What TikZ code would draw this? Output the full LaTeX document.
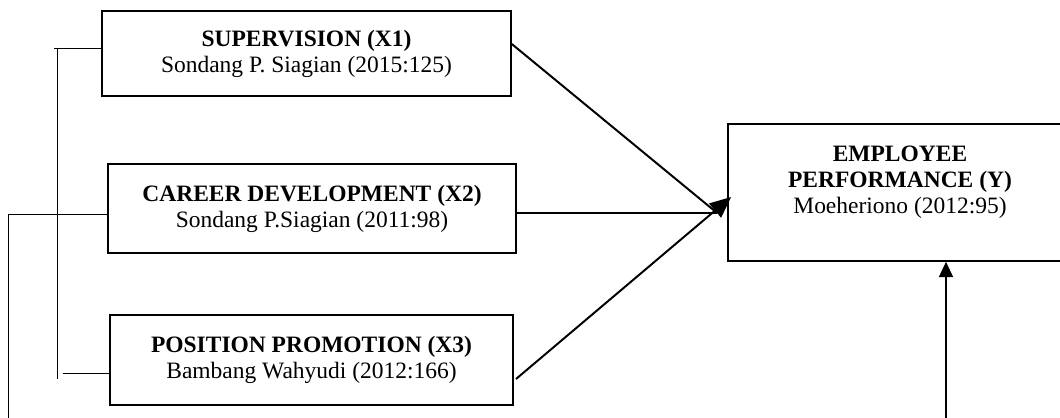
\documentclass[tikz,border=0pt]{standalone}
\usepackage{fontspec}
\setmainfont{Liberation Serif}
\usetikzlibrary{calc,arrows.meta}

\begin{document}
\begin{tikzpicture}[%
    x=0.025cm,
    y=-0.025cm,
    font=\fontsize{16.7}{18.5}\selectfont,
    varbox/.style={draw, line width=1.2pt, align=center, inner sep=0pt},
    link/.style={line width=1.4pt},
    tiplink/.style={line width=1.4pt, -{Triangle[length=15pt,width=13pt]}},
    uplink/.style={line width=1.4pt, -{Triangle[length=11pt,width=10pt]}},
    bracket/.style={line width=0.7pt}
]
    \useasboundingbox (0,0) rectangle (1060,417);
    \clip (0,0) rectangle (1060,417);

    \node[varbox, minimum width=10.22cm, minimum height=2.12cm] (sup) at (306.5,53.5) {\textbf{SUPERVISION (X1)}\\ Sondang P. Siagian (2015:125)};
    \node[varbox, minimum width=10.2cm,  minimum height=2.22cm] (car) at (312,208.5)  {\textbf{CAREER DEVELOPMENT (X2)}\\ Sondang P.Siagian (2011:98)};
    \node[varbox, minimum width=10.08cm, minimum height=2.25cm] (pos) at (311.5,360)  {\textbf{POSITION PROMOTION (X3)}\\ Bambang Wahyudi (2012:166)};
    \node[varbox, minimum width=8.6cm,   minimum height=3.42cm] (perf) at (900,192.5) {};
    \node[anchor=north, inner sep=0pt, align=center] (perftext) at ($(perf.north)+(0,22.5)$) {\textbf{EMPLOYEE}\\ \textbf{PERFORMANCE (Y)}\\ Moeheriono (2012:95)};

    \coordinate (meet)   at ($(perf.west)+(-10,20.5)$);
    \coordinate (hit)    at ($(perf.west)+(4,4.5)$);
    \coordinate (perfin) at (946,420);
    \coordinate (brtop)  at (54,48);
    \coordinate (brbot)  at (62.5,373);
    \coordinate (brend)  at (57,379);
    \coordinate (outer)  at (8.5,420);

    \path ($(sup.east)+(0,-9.5)$) edge[link]    (meet)
          ($(car.east)+(0,4.5)$)  edge[link]    (meet)
          ($(pos.east)+(2,19)$)   edge[tiplink] (hit)
          (perfin)                edge[uplink]  (perfin |- perf.south)
          (brtop)                 edge[bracket] ($(sup.west)+(0,-5.5)$)
          (brend |- brtop)        edge[bracket] (brend)
          (brbot)                 edge[bracket] ($(pos.west)+(0,13)$);

    \draw[bracket] (outer) |- ($(car.west)+(0,5.5)$);
\end{tikzpicture}
\end{document}
